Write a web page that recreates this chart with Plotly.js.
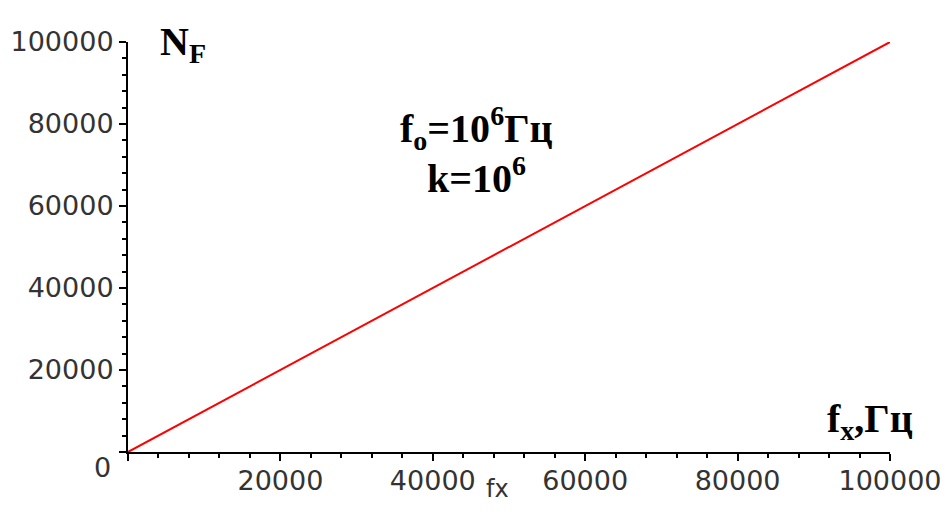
<!DOCTYPE html>
<html>
<head>
<meta charset="utf-8">
<script src="https://cdn.plot.ly/plotly-3.0.1.min.js"></script>
<style>html,body{margin:0;padding:0;background:#fff;}#chart{width:950px;height:526px;}</style>
</head>
<body>
<div id="chart"></div>
<script>
var fx = [0, 20000, 40000, 60000, 80000, 100000];
var nf = [0, 20000, 40000, 60000, 80000, 100000];
var tickVals = [0, 20000, 40000, 60000, 80000, 100000];
var tickText = ['', '20000', '40000', '60000', '80000', '100000'];

var tickFont = {family: 'DejaVu Sans', size: 27, color: '#333'};
var boldFont = {family: 'Liberation Serif', size: 40, color: '#000'};

var data = [{
  x: fx, y: nf, type: 'scatter', mode: 'lines',
  line: {color: '#ff0000', width: 2},
  cliponaxis: false, hoverinfo: 'none'
}];

var axisCommon = {
  showgrid: false, zeroline: false, showline: true,
  linecolor: '#000', linewidth: 2,
  ticks: 'outside', ticklen: 7, tickwidth: 2, tickcolor: '#000',
  tickmode: 'array', tickvals: tickVals, ticktext: tickText,
  tickfont: tickFont,
  minor: {tickmode: 'linear', tick0: 0, dtick: 4000, ticklen: 4, tickwidth: 2, tickcolor: '#000', showgrid: false}
};

var layout = {
  width: 950, height: 526,
  margin: {l: 128, r: 60, t: 42, b: 74},
  paper_bgcolor: '#fff', plot_bgcolor: '#fff',
  showlegend: false,
  xaxis: Object.assign({}, axisCommon, {range: [0, 100000], ticklabelstandoff: -3}),
  yaxis: Object.assign({}, axisCommon, {range: [0, 100000]}),
  annotations: [
    {xref: 'paper', yref: 'paper', x: -0.033, y: -0.037, text: '0', showarrow: false,
     font: tickFont, xanchor: 'center', yanchor: 'middle'},
    {xref: 'paper', yref: 'paper', x: 0.485, y: -0.09, text: 'fx', showarrow: false,
     font: {family: 'DejaVu Sans', size: 24, color: '#333'}, xanchor: 'center', yanchor: 'middle'},
    {xref: 'paper', yref: 'paper', x: 0.04, y: 0.995, text: '<b>N<sub>F</sub></b>', showarrow: false,
     font: boldFont, xanchor: 'left', yanchor: 'middle'},
    {xref: 'paper', yref: 'paper', x: 0.457, y: 0.79, text: '<b>f<sub>o</sub>=10<sup>6</sup>Гц</b>', showarrow: false,
     font: boldFont, xanchor: 'center', yanchor: 'middle'},
    {xref: 'paper', yref: 'paper', x: 0.457, y: 0.675, text: '<b>k=10<sup>6</sup></b>', showarrow: false,
     font: boldFont, xanchor: 'center', yanchor: 'middle'},
    {xref: 'paper', yref: 'paper', x: 0.974, y: 0.075, text: '<b>f<sub>x</sub>,Гц</b>', showarrow: false,
     font: boldFont, xanchor: 'center', yanchor: 'middle'}
  ]
};

Plotly.newPlot('chart', data, layout, {displayModeBar: false, staticPlot: true});
</script>
</body>
</html>
